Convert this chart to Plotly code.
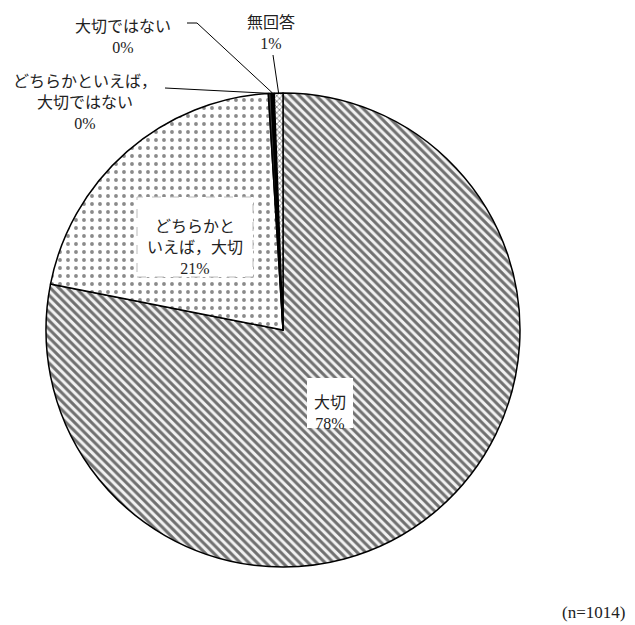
import math
import plotly.graph_objects as go

labels = ["大切", "どちらかといえば，大切", "どちらかといえば，大切ではない", "大切ではない", "無回答"]
counts = [792, 212, 2, 2, 6]
n_total = 1014

OFF = 8  # page body margin
W, H = 627, 617
L, T, S = 38, 85, 474  # square plot domain in px
R = W - L - S
B = H - T - S


def px(x):
    return (x - OFF - L) / S


def py(y):
    return (H - B - (y - OFF)) / S


total = sum(counts)
pcts = [f"{round(c / total * 100)}%" for c in counts]

# slice mid angles (clockwise from 12 o'clock) -> outer edge points in paper coords
edges = []
cum = 0
for c in counts:
    mid = (cum + c / 2) / total
    th = 2 * math.pi * mid
    edges.append((0.5 + 0.5 * math.sin(th), 0.5 + 0.5 * math.cos(th)))
    cum += c

fig = go.Figure(go.Pie(
    labels=labels, values=counts, sort=False, direction="clockwise", rotation=0,
    textinfo="none", hoverinfo="label+percent", showlegend=False,
    domain=dict(x=[0, 1], y=[0, 1]),
    marker=dict(
        colors=["white", "white", "#3a3a3a", "#000000", "white"],
        line=dict(color="black", width=1.5),
        pattern=dict(
            shape=["\\", ".", "", "", "x"],
            fgcolor=["#707070", "#8a8a8a", "#3a3a3a", "#000000", "#555555"],
            bgcolor=["#f2f2f2", "white", "#3a3a3a", "#000000", "white"],
            size=[6, 8, 4, 4, 4],
            solidity=[0.5, 0.18, 0.3, 0.3, 0.3],
        ),
    ),
))

font = dict(family="Liberation Serif, Noto Sans CJK JP", size=16, color="#222222")

shapes = [
    dict(type="rect", xref="paper", yref="paper", x0=px(137), x1=px(253), y0=py(277), y1=py(197),
         fillcolor="white", line=dict(color="#bbbbbb", width=1, dash="dash"), layer="above"),
    dict(type="rect", xref="paper", yref="paper", x0=px(307), x1=px(353), y0=py(428), y1=py(378),
         fillcolor="white", line=dict(width=0), layer="above"),
    dict(type="line", xref="paper", yref="paper", x0=px(165), y0=py(88),
         x1=edges[2][0], y1=edges[2][1], line=dict(color="black", width=1), layer="above"),
    dict(type="path", xref="paper", yref="paper",
         path=f"M {px(187)},{py(23)} L {px(197)},{py(23)} L {edges[3][0]},{edges[3][1]}",
         line=dict(color="black", width=1), layer="above"),
    dict(type="line", xref="paper", yref="paper", x0=px(273), y0=py(55),
         x1=edges[4][0], y1=edges[4][1], line=dict(color="black", width=1), layer="above"),
]

annotations = [
    dict(text=f"{labels[3]}<br>{pcts[3]}", x=px(123), y=py(37)),
    dict(text=f"{labels[4]}<br>{pcts[4]}", x=px(271), y=py(33)),
    dict(text=f"どちらかといえば，<br>大切ではない<br>{pcts[2]}", x=px(85), y=py(103)),
    dict(text=f"どちらかと<br>いえば，大切<br>{pcts[1]}", x=px(195), y=py(247)),
    dict(text=f"{labels[0]}<br>{pcts[0]}", x=px(330), y=py(413)),
    dict(text=f"(n={n_total})", x=px(593), y=py(612), font=dict(size=17)),
]
for a in annotations:
    f = dict(font)
    f.update(a.get("font", {}))
    a.update(xref="paper", yref="paper", showarrow=False, xanchor="center", yanchor="middle",
             font=f, align="center")

fig.update_layout(
    width=W, height=H,
    margin=dict(l=L, r=R, t=T, b=B),
    paper_bgcolor="white", plot_bgcolor="white",
    shapes=shapes, annotations=annotations,
)

fig.write_html("out.html")
